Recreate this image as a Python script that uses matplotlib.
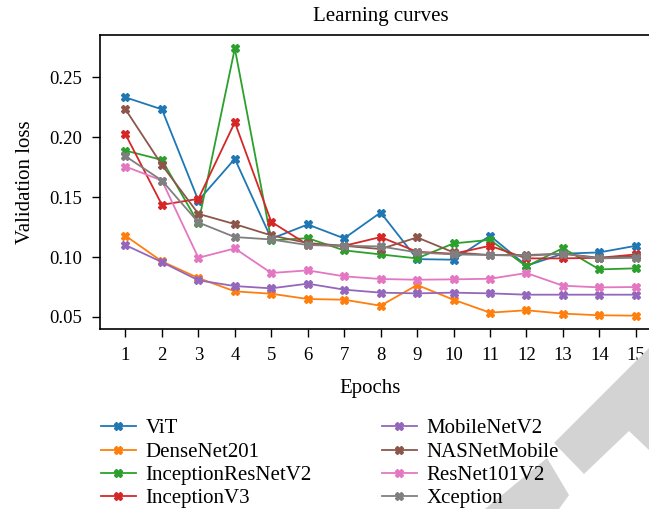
import matplotlib
matplotlib.use('Agg')
from matplotlib import pyplot as plt
from matplotlib.patches import Polygon

epochs = list(range(1, 16))

vit = [0.2333, 0.2233, 0.1472, 0.1820, 0.1153, 0.1272, 0.1156, 0.1372,
       0.0983, 0.0978, 0.1178, 0.0928, 0.1028, 0.1039, 0.1094]
densenet201 = [0.1178, 0.0964, 0.0825, 0.0714, 0.0694, 0.0650, 0.0644, 0.0594,
               0.0767, 0.0644, 0.0536, 0.0556, 0.0528, 0.0514, 0.0511]
inception_resnet_v2 = [0.1889, 0.1811, 0.1283, 0.2742, 0.1139, 0.1158, 0.1056, 0.1022,
                       0.0989, 0.1114, 0.1144, 0.0922, 0.1075, 0.0897, 0.0906]
inception_v3 = [0.2025, 0.1436, 0.1486, 0.2125, 0.1294, 0.1103, 0.1094, 0.1167,
                0.1044, 0.1028, 0.1094, 0.0989, 0.0989, 0.0994, 0.1022]
mobilenet_v2 = [0.1100, 0.0958, 0.0806, 0.0758, 0.0739, 0.0778, 0.0728, 0.0703,
                0.0697, 0.0703, 0.0697, 0.0686, 0.0686, 0.0686, 0.0686]
nasnet_mobile = [0.2233, 0.1769, 0.1361, 0.1275, 0.1181, 0.1117, 0.1094, 0.1067,
                 0.1164, 0.1039, 0.1017, 0.1017, 0.1028, 0.0994, 0.1006]
resnet101_v2 = [0.1756, 0.1639, 0.0994, 0.1072, 0.0867, 0.0889, 0.0839, 0.0817,
                0.0811, 0.0814, 0.0819, 0.0867, 0.0761, 0.0747, 0.0750]
xception = [0.1842, 0.1639, 0.1289, 0.1167, 0.1147, 0.1100, 0.1094, 0.1089,
            0.1039, 0.1022, 0.1017, 0.1011, 0.1028, 0.0989, 0.0994]

names = ['ViT', 'DenseNet201', 'InceptionResNetV2', 'InceptionV3',
         'MobileNetV2', 'NASNetMobile', 'ResNet101V2', 'Xception']
series = [vit, densenet201, inception_resnet_v2, inception_v3,
          mobilenet_v2, nasnet_mobile, resnet101_v2, xception]
colors = ['#1f77b4', '#ff7f0e', '#2ca02c', '#d62728',
          '#9467bd', '#8c564b', '#e377c2', '#7f7f7f']

yticks = [0.05, 0.10, 0.15, 0.20, 0.25]

plt.rcParams['font.family'] = ['Liberation Serif', 'DejaVu Serif']
plt.rcParams['font.size'] = 15

fig = plt.figure(figsize=(6.49, 5.09), dpi=100)
ax = fig.add_axes([0.154, 0.3536, 0.865, 0.5776])

for name, vals, c in zip(names, series, colors):
    ax.plot(epochs, vals, color=c, lw=1.3, marker='X', ms=5.5, label=name)

ax.set_xticks(epochs)
ax.set_yticks(yticks)
ax.set_yticklabels(['%.2f' % t for t in yticks])
ax.tick_params(axis='both', direction='out', length=5.8, width=1, labelsize=13.5, pad=7)
for s in ax.spines.values():
    s.set_linewidth(1.2)

ax.set_title('Learning curves', fontsize=15, pad=10)
ax.set_xlabel('Epochs', fontsize=15, labelpad=11)
ax.xaxis.label.set_x(0.481)
ax.set_ylabel('Validation loss', fontsize=15, labelpad=10)

fig.legend(loc='upper left', bbox_to_anchor=(0.155, 0.177), ncol=2, frameon=False,
           fontsize=15, borderpad=0, borderaxespad=0, handlelength=1.68,
           handletextpad=0.48, labelspacing=0.18, columnspacing=3.35)

# grey watermark in the bottom right corner (kept behind the legend text)
def to_fig(pts):
    return [(x / 649, 1 - y / 509) for x, y in pts]

wm_a = [(554, 443), (649, 348), (649, 450), (629, 431), (584, 474)]
wm_b = [(485, 509), (547, 458), (569, 495), (559, 509)]
for pts in (wm_a, wm_b):
    fig.patches.append(Polygon(to_fig(pts), closed=True, transform=fig.transFigure,
                               facecolor='#d3d3d3', edgecolor='none', zorder=1))

fig.savefig('out.png', dpi=100)
